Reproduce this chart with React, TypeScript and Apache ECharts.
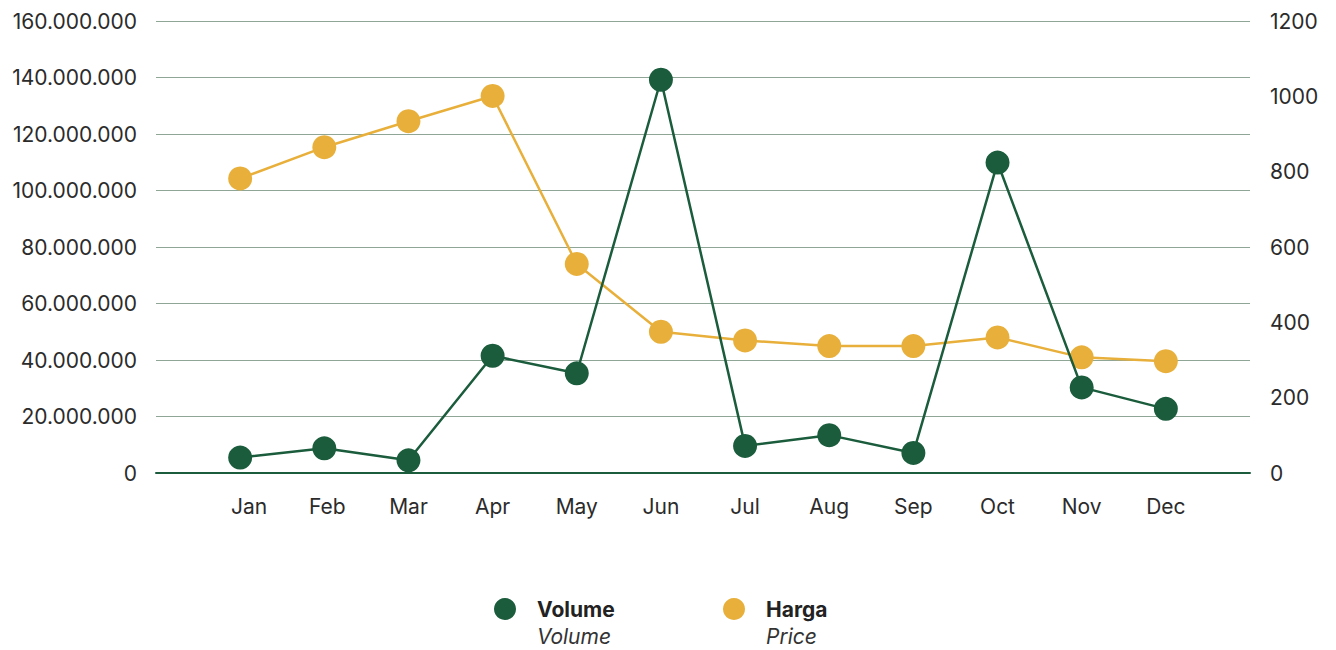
import React, { useEffect, useRef } from "react";
import * as echarts from "echarts";

const months = ["Jan", "Feb", "Mar", "Apr", "May", "Jun", "Jul", "Aug", "Sep", "Oct", "Nov", "Dec"];
const volume = [5460000, 8750000, 4500000, 41500000, 35300000, 139200000, 9600000, 13400000, 7100000, 109900000, 30300000, 22700000];
const harga = [782, 865, 934, 1001, 555, 375, 352, 337, 337, 360, 307, 297];
const seriesNames = ["Volume", "Harga"];
const seriesSubtitles: Record<string, string> = { Volume: "Volume", Harga: "Price" };

const GREEN = "#1a5c3c";
const YELLOW = "#e8b03b";
const TEXT = "#2b2b2b";
const FONT = "Inter";
const FS = 21;

const fmtDots = (v: number) => String(v).replace(/\B(?=(\d{3})+(?!\d))/g, ".");

export default function App() {
  const ref = useRef<HTMLDivElement>(null);
  useEffect(() => {
    if (!ref.current) return;
    const chart = echarts.init(ref.current, undefined, { renderer: "svg" });
    const cats = ["", ...months, ""];
    const vData = [null, ...volume, null];
    const hData = [null, ...harga, null];
    const legendLefts = [494, 723];
    const legends: any[] = [];
    seriesNames.forEach((name, i) => {
      const base = {
        data: [name],
        left: legendLefts[i],
        padding: 0,
        icon: "circle",
        itemWidth: 22,
        itemHeight: 22,
      };
      legends.push({
        ...base,
        top: 598,
        textStyle: { fontFamily: FONT, fontSize: FS, fontWeight: "bold", color: "#222", padding: [0, 0, 0, 16] },
      });
      legends.push({
        ...base,
        top: 625,
        itemStyle: { opacity: 0 },
        formatter: (n: string) => seriesSubtitles[n],
        textStyle: { fontFamily: FONT, fontSize: FS, fontStyle: "italic", color: "#333", padding: [0, 0, 0, 16] },
      });
    });
    chart.setOption({
      animation: false,
      textStyle: { fontFamily: FONT },
      grid: { left: 156, right: 86, top: 21, bottom: 177, containLabel: false },
      legend: legends,
      xAxis: {
        type: "category",
        data: cats,
        boundaryGap: false,
        axisLine: { lineStyle: { color: GREEN, width: 2 } },
        axisTick: { show: false },
        axisLabel: {
          interval: 0,
          margin: 23,
          fontSize: FS,
          color: TEXT,
          fontFamily: FONT,
          formatter: (v: string) => (v === "Jan" ? `{a|${v}}` : v === "Feb" ? `{b|${v}}` : v),
          rich: {
            a: { fontSize: FS, color: TEXT, fontFamily: FONT, padding: [0, 0, 0, 18] },
            b: { fontSize: FS, color: TEXT, fontFamily: FONT, padding: [0, 0, 0, 6] },
          },
        },
        splitLine: { show: false },
      },
      yAxis: [
        {
          type: "value",
          min: 0,
          max: 160000000,
          interval: 20000000,
          axisLine: { show: false },
          axisTick: { show: false },
          axisLabel: { margin: 19, fontSize: FS, color: TEXT, fontFamily: FONT, formatter: (v: number) => fmtDots(v) },
          splitLine: { lineStyle: { color: "#8fa595", width: 1 } },
        },
        {
          type: "value",
          min: 0,
          max: 1200,
          interval: 200,
          axisLine: { show: false },
          axisTick: { show: false },
          axisLabel: { margin: 20, fontSize: FS, color: TEXT, fontFamily: FONT, formatter: (v: number) => String(v) },
          splitLine: { show: false },
        },
      ],
      series: [
        {
          name: "Volume",
          type: "line",
          yAxisIndex: 0,
          data: vData,
          z: 3,
          symbol: "circle",
          symbolSize: 24,
          color: GREEN,
          itemStyle: { color: GREEN },
          lineStyle: { color: GREEN, width: 2.5 },
        },
        {
          name: "Harga",
          type: "line",
          yAxisIndex: 1,
          data: hData,
          z: 2,
          symbol: "circle",
          symbolSize: 24,
          color: YELLOW,
          itemStyle: { color: YELLOW },
          lineStyle: { color: YELLOW, width: 2.5 },
        },
      ],
    });
    return () => chart.dispose();
  }, []);
  return (
    <div
      ref={ref}
      style={{ position: "absolute", left: 0, top: 0, width: 1336, height: 650, background: "#fff" }}
    />
  );
}
